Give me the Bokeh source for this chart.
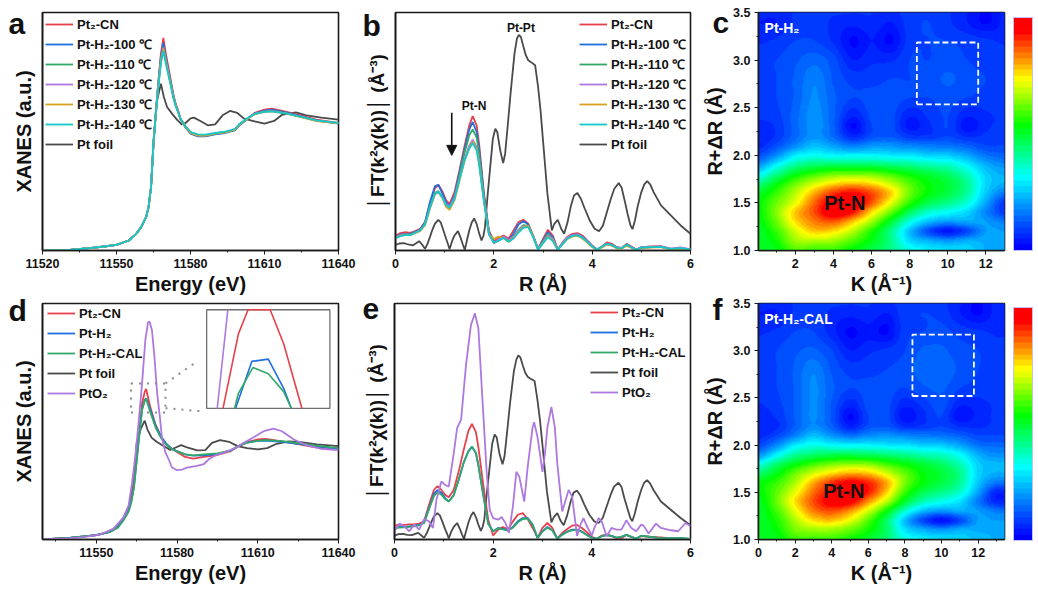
import numpy as np
from bokeh.plotting import figure
from bokeh.layouts import row, column
from bokeh.embed import file_html
from bokeh.resources import INLINE
from bokeh.core.properties import value
from bokeh.models import (Range1d, FixedTicker, Legend, LegendItem, Arrow, NormalHead,
                          LinearColorMapper, ColorBar, NumeralTickFormatter)

FONT = "Liberation Sans"
RED, BLUE, GREEN, PURPLE, ORANGE, CYAN, GREY = "#e8404a", "#1f6fe0", "#32a868", "#ad78e0", "#d9a020", "#12c8cc", "#4a4a4a"

# panel a
Ea = [11520,11530,11540,11545,11550,11555,11558,11560,11562,11563,11564,11565,11566,11567,11568,
      11569,11570,11571,11572,11573,11574,11575,11576,11578,11580,11583,11586,11590,11594,11598,
      11600,11603,11606,11610,11613,11619,11625,11631,11640]
a_cn = [0,1,8,12,17,30,50,70,100,130,190,320,420,510,590,637,590,550,510,470,440,420,395,372,355,345,343,350,353,362,378,395,412,422,425,415,404,392,382]
a_100 = [0,1,8,12,17,30,50,70,100,130,190,320,420,505,580,622,578,540,503,465,436,415,392,368,350,342,342,348,352,360,376,393,410,419,422,413,402,390,380]
a_110 = [0,1,8,12,17,30,50,70,100,130,190,320,418,500,572,610,570,535,500,463,436,415,393,370,353,345,344,350,354,362,378,394,409,417,419,411,400,389,381]
a_120 = [0,1,8,12,17,30,50,70,100,130,190,320,418,500,570,608,568,533,498,462,435,415,393,370,353,345,345,351,355,363,379,395,409,416,418,410,400,389,381]
a_130 = [0,1,8,12,17,30,50,70,100,130,190,320,418,498,566,604,565,530,496,460,434,414,392,369,352,344,344,350,354,362,378,394,408,415,417,410,399,388,381]
a_140 = [0,1,8,12,17,30,50,70,100,130,190,320,416,495,560,598,560,527,494,458,433,414,393,371,355,348,347,352,356,364,380,396,409,415,417,410,400,390,382]
Ea_foil = [11520,11530,11540,11545,11550,11555,11558,11560,11562,11563,11564,11565,11566.5,11568,11569.2,11570.5,
           11572.5,11574.5,11576.4,11578,11580,11581.4,11584,11587,11590,11593,11596,11599,11601.7,11606,11610,
           11613.9,11617,11622.7,11627,11633,11640]
a_foil = [0,1,8,12,17,30,50,70,100,130,190,330,450,500,460,430,410,392,378,382,396,398,388,375,378,405,418,412,395,387,380,388,406,414,405,398,392]

# panel b
Rb = [0,.1,.2,.3,.4,.5,.6,.7,.8,.87,.95,1.03,1.1,1.2,1.3,1.4,1.5,1.57,1.65,1.7,1.8,1.9,2.0,2.1,2.2,
      2.3,2.4,2.5,2.6,2.7,2.8,2.9,3.0,3.1,3.2,3.3,3.4,3.5,3.6,3.7,3.8,3.9,4.0,4.1,4.2,4.3,4.4,4.5,4.6,4.7,
      4.8,4.9,5.0,5.2,5.4,5.6,5.8,6.0]
b_cn = [45,52,55,53,58,65,85,140,185,197,178,150,140,175,240,310,375,403,375,320,170,60,28,38,45,35,60,85,92,80,45,5,35,62,45,3,25,42,50,52,45,30,15,3,12,24,20,10,8,20,12,3,10,12,13,4,5,3]
b_100 = [42,48,50,50,56,62,85,145,192,197,172,145,133,165,232,300,362,385,355,305,165,55,25,30,40,30,50,78,88,78,42,5,30,55,40,3,22,38,46,48,42,28,13,3,10,20,17,9,7,18,10,3,9,10,11,3,6,2]
b_110 = [40,46,48,48,54,60,80,132,172,178,160,138,130,160,225,290,345,363,338,290,160,52,22,30,38,28,42,62,76,74,44,6,28,50,36,3,20,36,44,47,40,27,12,3,10,19,16,8,7,16,9,3,9,10,11,4,6,3]
b_120 = [40,46,48,47,54,60,78,128,168,176,160,138,132,158,215,272,315,332,310,268,150,50,22,35,42,30,42,60,72,72,42,5,25,46,34,3,22,40,46,48,40,27,13,3,12,20,16,8,8,16,10,3,10,11,12,6,9,4]
b_130 = [38,44,47,46,52,58,76,125,168,175,158,130,122,150,208,265,308,327,305,262,148,48,35,42,36,26,38,56,70,74,42,3,22,42,30,3,20,35,42,44,36,24,10,1,10,18,14,6,5,14,8,1,8,9,10,3,6,2]
b_140 = [37,43,46,46,53,60,78,128,170,176,160,136,128,155,212,268,305,322,300,258,145,48,24,30,38,26,36,54,68,70,40,2,22,40,28,2,20,36,44,46,38,26,12,2,12,20,16,8,7,17,9,2,9,10,11,5,7,3]
Rf = [0,.08,.17,.26,.35,.42,.48,.54,.6,.65,.7,.75,.8,.87,.92,.97,1.03,1.07,1.1,1.15,1.2,1.27,1.32,1.37,1.41,1.46,1.5,1.55,1.6,1.65,
      1.7,1.75,1.79,1.82,1.87,1.92,1.98,2.03,2.07,2.13,2.19,2.23,2.28,2.34,2.42,2.47,2.51,2.55,2.6,2.65,2.7,2.75,2.84,2.9,2.95,
      3.0,3.09,3.18,3.23,3.3,3.37,3.43,3.5,3.57,3.63,3.7,3.77,3.85,3.95,4.05,4.14,4.22,4.3,4.38,4.45,4.54,4.6,4.66,4.72,4.78,
      4.82,4.87,4.93,5.0,5.06,5.12,5.18,5.25,5.4,5.6,5.8,6.0]
b_foil = [17,21,22,18,15,22,28,18,5,20,40,62,80,92,84,62,35,18,4,28,45,58,40,18,2,35,60,84,96,80,
          52,30,45,70,160,240,335,365,355,300,262,290,370,470,590,635,646,640,612,585,570,565,555,490,420,
          330,170,60,80,92,65,50,85,135,165,172,155,125,90,65,58,75,115,155,185,202,188,150,110,75,
          64,90,135,175,198,208,198,175,135,105,75,50]

# panel d
Ed = [11530,11540,11550,11555,11558,11560,11562,11563,11564,11565,11566,11567,11568,11568.5,11570,11572,11574,11576,11578,
      11580,11583,11586,11590,11595,11600,11603,11606,11610,11613,11619,11625,11631,11640]
d_cn = [0,5,13,23,38,63,93,123,173,253,333,413,448,456,403,348,313,288,275,265,250,245,250,256,268,283,295,303,305,297,289,280,273]
d_h2 = [0,5,13,23,38,60,88,116,160,240,320,395,423,428,395,345,313,290,275,268,258,254,255,259,270,284,294,299,300,296,290,283,275]
d_cal = [0,5,13,23,36,57,84,112,158,238,318,392,420,427,387,340,308,287,274,267,258,255,258,261,270,284,293,299,301,298,292,285,277]
Ed_foil = [11530,11540,11550,11555,11558,11560,11562,11563,11564,11565,11566.5,11568,11569,11570.6,11572.4,11575,11577.5,11579.3,
           11581.5,11584,11587.5,11590.5,11593,11596,11599.3,11602.5,11606,11610,11613.5,11617,11621.5,11626,11632,11640]
d_foil = [0,5,13,23,40,65,100,130,180,293,335,360,333,308,296,283,271,278,286,278,270,271,293,301,296,283,277,273,277,290,297,295,288,283]
Ed_pto2 = [11530,11540,11545.3,11551.5,11556.4,11560.2,11562,11563.3,11564.5,11565.7,11567,11568.2,11569.2,11569.8,11570.7,11571.6,
           11572.6,11573.6,11574.4,11575.7,11576.9,11578.1,11580,11581.9,11583.7,11587.4,11589.9,11591.8,11594.3,11597.4,11601.1,
           11604.8,11608.5,11612.2,11615.9,11619,11623.4,11628.3,11633.3,11640]
d_pto2 = [0,3,7,15,33,68,103,173,253,353,473,603,658,660,633,553,443,373,308,263,243,218,210,212,218,223,228,243,255,263,275,293,310,328,336,328,303,285,275,271]

# inset of panel d: the boxed part of the peak
inset_E_cn, inset_cn = [11564.6,11566.2,11567.2,11569.5,11570.9,11572.8], [385,451.5,473,473,442.7,385]
inset_E_h2, inset_h2 = [11565.9,11567.6,11569.3,11570.9,11571.7], [385,427,429,403,385]
inset_E_cal, inset_cal = [11565.8,11566.2,11567.7,11569.3,11570.9,11571.7], [385,398.5,421.5,416,400,385]
inset_E_pto2, inset_pto2 = [11564,11565.1], [385,473]

# panel e
e_cn = [42,45,44,46,46,48,55,105,150,162,150,135,128,150,205,270,330,350,325,280,165,60,12,30,38,30,55,75,80,62,35,5,35,50,35,3,20,32,42,44,35,22,8,2,12,15,10,4,3,14,8,3,10,8,6,3,3,2]
e_h2 = [35,38,38,40,42,44,52,95,138,150,142,125,115,135,180,232,268,280,262,225,135,48,25,35,32,28,38,55,65,65,45,5,25,38,28,3,15,24,30,30,24,14,6,2,10,13,11,6,8,14,8,3,11,8,3,4,4,2]
e_cal = [34,36,37,38,40,43,50,92,132,143,136,122,115,133,180,232,268,282,262,225,133,47,24,34,31,27,36,52,62,63,44,5,24,36,27,3,14,23,28,29,23,13,5,2,10,13,11,6,8,14,8,3,11,8,3,4,4,2]
e_foil = [12,16,17,14,13,17,20,13,5,18,35,54,70,80,73,54,30,16,3,24,38,50,34,15,2,30,52,72,83,68,
          45,26,40,60,138,208,290,318,310,258,228,252,322,410,510,545,558,552,528,505,493,488,480,420,360,
          285,145,52,68,80,56,43,73,115,142,148,133,105,75,55,50,65,100,135,160,172,160,125,95,65,
          55,78,115,150,172,180,170,150,115,90,65,43]
Rp = [0,.1,.2,.3,.4,.5,.6,.7,.78,.85,.95,1.03,1.1,1.2,1.27,1.35,1.45,1.55,1.63,1.7,1.8,1.87,1.93,2.0,2.1,2.17,2.25,2.32,2.4,2.47,
      2.53,2.63,2.7,2.8,2.83,2.9,3.0,3.05,3.1,3.18,3.25,3.3,3.4,3.45,3.53,3.6,3.7,3.77,3.83,3.9,4.0,4.05,4.14,4.2,4.3,
      4.4,4.5,4.6,4.7,4.8,4.9,5.0,5.05,5.15,5.3,5.4,5.6,5.75,5.9,6.0]
e_pto2 = [25,48,40,25,45,30,62,55,35,120,176,165,160,260,338,363,530,650,685,640,380,200,90,65,60,68,50,20,100,205,190,115,220,340,355,310,205,260,340,402,340,230,85,110,150,130,11,45,65,40,12,35,65,55,10,35,30,30,58,35,25,45,42,18,48,35,28,25,50,40]

# wavelet maps: one row per R in map_R; columns k = 0 ... 14
map_k = [0,1,2,3,4,5,6,7,8,9,10,11,12,13,14]
map_R = [1.0,1.1,1.2,1.3,1.4,1.5,1.6,1.7,1.8,1.9,2.0,2.1,2.2,2.3,2.4,2.6,2.8,3.0,3.2,3.4,3.6]
map_c = [
 [.50,.52,.60,.58,.58,.53,.48,.42,.34,.30,.28,.27,.22,.20,.20],
 [.50,.55,.66,.68,.66,.60,.52,.42,.27,.22,.19,.22,.22,.22,.22],
 [.50,.58,.70,.78,.76,.68,.56,.42,.24,.10,.04,.10,.20,.20,.20],
 [.52,.62,.76,.84,.87,.78,.66,.50,.34,.24,.20,.22,.20,.16,.16],
 [.53,.64,.78,.88,.99,.93,.76,.62,.46,.36,.32,.27,.17,.08,.10],
 [.53,.62,.72,.86,.97,1.0,.87,.72,.57,.47,.42,.35,.21,.08,.12],
 [.50,.58,.68,.80,.90,.94,.88,.77,.62,.53,.48,.40,.25,.16,.18],
 [.42,.52,.62,.70,.76,.79,.76,.69,.60,.53,.49,.41,.27,.22,.24],
 [.30,.42,.52,.58,.62,.63,.62,.58,.53,.49,.45,.37,.26,.22,.24],
 [.18,.30,.40,.44,.45,.45,.45,.43,.41,.38,.36,.30,.22,.18,.20],
 [.10,.18,.29,.32,.30,.30,.30,.29,.28,.26,.25,.21,.15,.13,.13],
 [.06,.11,.18,.24,.20,.16,.19,.19,.17,.16,.15,.13,.10,.10,.10],
 [.05,.08,.14,.19,.14,.06,.11,.12,.08,.08,.10,.07,.08,.08,.08],
 [.06,.08,.14,.19,.13,.02,.10,.11,.04,.07,.10,.03,.07,.08,.08],
 [.08,.09,.14,.19,.13,.05,.11,.11,.05,.08,.10,.05,.07,.08,.08],
 [.09,.10,.13,.18,.13,.10,.11,.11,.10,.10,.11,.10,.09,.09,.09],
 [.09,.10,.13,.17,.12,.09,.09,.10,.10,.11,.13,.11,.10,.09,.09],
 [.09,.10,.12,.14,.11,.05,.07,.07,.10,.10,.11,.10,.09,.09,.09],
 [.07,.08,.10,.10,.07,.02,.05,.02,.09,.10,.10,.09,.08,.07,.07],
 [.05,.05,.08,.09,.07,.06,.07,.05,.09,.10,.08,.05,.02,.06,.07],
 [.08,.07,.08,.09,.09,.09,.08,.08,.09,.09,.08,.06,.03,.06,.07]]
map_f = [
 [.50,.52,.58,.58,.58,.55,.50,.44,.34,.30,.28,.27,.24,.22,.20],
 [.50,.54,.63,.66,.66,.62,.55,.45,.28,.22,.19,.22,.22,.22,.22],
 [.50,.56,.67,.76,.78,.72,.60,.45,.24,.10,.03,.10,.20,.20,.20],
 [.50,.59,.72,.84,.88,.82,.70,.54,.36,.24,.20,.22,.20,.16,.16],
 [.51,.62,.76,.88,.96,.96,.82,.68,.50,.38,.33,.28,.16,.06,.08],
 [.53,.61,.72,.85,.94,1.0,.92,.77,.58,.47,.42,.36,.21,.06,.10],
 [.53,.58,.67,.80,.90,.95,.91,.80,.63,.53,.48,.41,.25,.16,.18],
 [.44,.52,.62,.70,.76,.80,.78,.70,.61,.53,.49,.42,.27,.22,.24],
 [.33,.44,.52,.58,.62,.64,.63,.58,.53,.49,.45,.38,.26,.23,.24],
 [.18,.30,.40,.44,.46,.46,.45,.43,.41,.38,.36,.31,.22,.18,.20],
 [.10,.18,.29,.33,.31,.30,.30,.29,.28,.26,.25,.21,.15,.14,.14],
 [.06,.10,.17,.24,.19,.15,.18,.19,.17,.16,.15,.13,.10,.10,.10],
 [.05,.07,.13,.18,.13,.05,.11,.12,.07,.08,.10,.07,.07,.08,.08],
 [.06,.08,.13,.18,.12,.02,.10,.11,.03,.07,.10,.03,.06,.08,.08],
 [.07,.09,.13,.18,.12,.05,.11,.11,.05,.08,.11,.05,.06,.08,.08],
 [.09,.10,.13,.18,.13,.10,.11,.11,.10,.12,.13,.10,.09,.09,.09],
 [.09,.10,.13,.17,.12,.09,.09,.10,.11,.14,.14,.12,.10,.09,.09],
 [.09,.10,.12,.13,.10,.05,.07,.08,.10,.13,.13,.11,.10,.09,.09],
 [.07,.08,.10,.10,.06,.02,.04,.02,.09,.10,.11,.09,.08,.07,.07],
 [.05,.05,.08,.09,.07,.06,.07,.05,.09,.10,.09,.05,.02,.06,.07],
 [.08,.07,.08,.09,.09,.09,.08,.08,.09,.09,.08,.06,.03,.06,.07]]

TICKS_A = [11520,11550,11580,11610,11640]
MINOR_A = [11535,11565,11595,11625]
TICKS_D = [11550,11580,11610,11640]
MINOR_D = [11535,11565,11595,11625]
TICKS_R = [0,2,4,6]
MINOR_R = [1,3,5]
TICKS_K = [2,4,6,8,10,12]
TICKS_KF = [0,2,4,6,8,10,12]
TICKS_Y = [1.0,1.5,2.0,2.5,3.0,3.5]
MINOR_KC = [1,3,5,7,9,11]
MINOR_KF = [1,3,5,7,9,11,13]

panel_letters = ["a", "b", "c", "d", "e", "f"]

FT = "\u2502FT(k\u00b2\u03c7(k))\u2502 (\u00c5\u207b\u00b3)"


def fig(width, height, xr, yr, xt, xm, yt, ym, xlabel, ylabel, left, right, top, bottom, xstand=2, ystand=8):
    p = figure(width=width, height=height, x_range=Range1d(*xr), y_range=Range1d(*yr),
               output_backend="svg", toolbar_location=None,
               min_border_left=left, min_border_right=right, min_border_top=top, min_border_bottom=bottom,
               background_fill_color="white", border_fill_color=None, outline_line_color="#1a1a1a",
               outline_line_width=1.6)
    p.grid.visible = False
    for ax, t, m, lab, st in ((p.xaxis[0], xt, xm, xlabel, xstand), (p.yaxis[0], yt, ym, ylabel, ystand)):
        ax.ticker = FixedTicker(ticks=t, minor_ticks=m)
        ax.axis_label = lab
        ax.axis_label_text_font = FONT
        ax.axis_label_text_font_style = "bold"
        ax.axis_label_text_font_size = "20px"
        ax.axis_label_text_color = "#111111"
        ax.axis_label_standoff = st
        ax.major_label_text_font = FONT
        ax.major_label_text_font_style = "bold"
        ax.major_label_text_font_size = "12.5px"
        ax.major_label_text_color = "#111111"
        ax.major_label_standoff = 4
        ax.major_tick_out = 4
        ax.major_tick_in = 0
        ax.minor_tick_out = 2
        ax.minor_tick_in = 0
        ax.axis_line_color = "#1a1a1a"
        ax.axis_line_width = 1.6
        ax.major_tick_line_color = "#1a1a1a"
        ax.minor_tick_line_color = "#1a1a1a"
    return p


def legend(p, pairs, x, y):
    it = [LegendItem(label=value(n), renderers=[r]) for n, r in pairs]
    p.add_layout(Legend(items=it, location=(x, y), background_fill_alpha=0, border_line_color=None,
                        padding=0, margin=0, spacing=0, label_height=20, glyph_height=20, glyph_width=28,
                        label_standoff=4, label_text_font=FONT, label_text_font_style="bold",
                        label_text_font_size="13px", label_text_color="#111111"))


def note(p, s, x, y, size, color="#111111", align="center"):
    p.text([x], [y], text=[s], text_font=value(FONT), text_font_style="bold", text_font_size=size,
           text_color=color, text_align=align, text_baseline="middle")


LW = 1.8
# ---------- a
pa = fig(358, 300, (11520, 11640), (0, 713), TICKS_A, MINOR_A, [], [], "Energy (eV)", "XANES (a.u.)", 42, 20, 12, 50)
rf = pa.line(Ea_foil, a_foil, line_color=GREY, line_width=LW)
rs = [pa.line(Ea, v, line_color=c, line_width=LW) for v, c in
      ((a_cn, RED), (a_100, BLUE), (a_110, GREEN), (a_120, PURPLE), (a_130, ORANGE), (a_140, CYAN))]
NAMES = ["Pt\u2082-CN", "Pt-H\u2082-100 \u2103", "Pt-H\u2082-110 \u2103", "Pt-H\u2082-120 \u2103", "Pt-H\u2082-130 \u2103", "Pt-H\u2082-140 \u2103", "Pt foil"]
legend(pa, list(zip(NAMES, rs + [rf])), 3, 96)

# ---------- b
pb = fig(343, 300, (0, 6), (0, 713), TICKS_R, MINOR_R, [], [], "R (\u00c5)", FT, 37, 11, 12, 50)
pb.yaxis[0].axis_label_text_font_size = "19px"
rf = pb.line(Rf, b_foil, line_color=GREY, line_width=LW)
rs = [pb.line(Rb, v, line_color=c, line_width=LW) for v, c in
      ((b_cn, RED), (b_100, BLUE), (b_110, GREEN), (b_120, PURPLE), (b_130, ORANGE), (b_140, CYAN))]
legend(pb, list(zip(NAMES, rs + [rf])), 184, 96)
note(pb, "Pt-Pt", 2.55, 668, "12px")
note(pb, "Pt-N", 1.6, 432, "12px")
pb.add_layout(Arrow(end=NormalHead(size=10, fill_color="#111111", line_color="#111111"),
                    x_start=1.144, y_start=413, x_end=1.144, y_end=285, line_color="#111111", line_width=1.6))

# ---------- d
pd_ = fig(358, 301, (11530, 11640), (0, 715), TICKS_D, MINOR_D, [], [], "Energy (eV)", "XANES (a.u.)", 42, 20, 13, 50)
rf = pd_.line(Ed_foil, d_foil, line_color=GREY, line_width=LW)
r1 = pd_.line(Ed, d_cn, line_color=RED, line_width=LW)
r2 = pd_.line(Ed, d_h2, line_color=BLUE, line_width=LW)
r3 = pd_.line(Ed, d_cal, line_color=GREEN, line_width=LW)
r4 = pd_.line(Ed_pto2, d_pto2, line_color=PURPLE, line_width=LW)
N2 = ["Pt\u2082-CN", "Pt-H\u2082", "Pt-H\u2082-CAL", "Pt foil", "PtO\u2082"]
legend(pd_, list(zip(N2, [r1, r2, r3, rf, r4])), 5, 136)
# zoom box, leaders and inset
src = dict(x=[11562.9, 11575.7], y=[385, 473])
pd_.line([src["x"][0], src["x"][1], src["x"][1], src["x"][0], src["x"][0]],
         [src["y"][0], src["y"][0], src["y"][1], src["y"][1], src["y"][0]],
         line_color="#8a8a8a", line_width=2, line_dash="2 6")
pd_.line([src["x"][1], 11586.8], [473, 536], line_color="#8a8a8a", line_width=2, line_dash="2 6")
pd_.line([src["x"][1], 11589.7], [398, 388], line_color="#8a8a8a", line_width=2, line_dash="2 6")
ibox = dict(l=11591, r=11636.8, b=397, t=696)
pd_.quad(left=[ibox["l"]], right=[ibox["r"]], bottom=[ibox["b"]], top=[ibox["t"]],
         fill_color="white", line_color="#6e6e6e", line_width=1.3)
sub = pd_.subplot(x_source=Range1d(src["x"][0], src["x"][1]), y_source=Range1d(src["y"][0], src["y"][1]),
                  x_target=Range1d(ibox["l"], ibox["r"]), y_target=Range1d(ibox["b"], ibox["t"]))
sub.line(inset_E_pto2, inset_pto2, line_color=PURPLE, line_width=1.6)
sub.line(inset_E_cn, inset_cn, line_color=RED, line_width=1.6)
sub.line(inset_E_h2, inset_h2, line_color=BLUE, line_width=1.6)
sub.line(inset_E_cal, inset_cal, line_color=GREEN, line_width=1.6)

# ---------- e
pe = fig(343, 301, (0, 6), (0, 715), TICKS_R, MINOR_R, [], [], "R (\u00c5)", FT, 36, 11, 13, 50)
pe.yaxis[0].axis_label_text_font_size = "19px"
rf = pe.line(Rf, e_foil, line_color=GREY, line_width=LW)
r1 = pe.line(Rb, e_cn, line_color=RED, line_width=LW)
r2 = pe.line(Rb, e_h2, line_color=BLUE, line_width=LW)
r3 = pe.line(Rb, e_cal, line_color=GREEN, line_width=LW)
r4 = pe.line(Rp, e_pto2, line_color=PURPLE, line_width=LW)
legend(pe, list(zip(N2, [r1, r2, r3, rf, r4])), 196, 137)


# ---------- maps
def upsample(grid, rows, n0=360, n1=460):
    """Catmull-Rom resampling so the read-off grid is drawn as a smooth raster."""
    a = np.array(grid, dtype=float)

    def cr(a, t):
        m = a.shape[0]
        i = np.clip(t.astype(int), 0, m - 2)
        u = (t - i).reshape((-1,) + (1,) * (a.ndim - 1))
        p0, p1, p2, p3 = a[np.clip(i - 1, 0, m - 1)], a[i], a[i + 1], a[np.clip(i + 2, 0, m - 1)]
        return 0.5 * (2 * p1 + (p2 - p0) * u + (2 * p0 - 5 * p1 + 4 * p2 - p3) * u ** 2 + (3 * p1 - p0 - 3 * p2 + p3) * u ** 3)

    t0 = np.interp(np.linspace(rows[0], rows[-1], n0), rows, np.arange(len(rows)))
    a = cr(a, t0)
    a = np.moveaxis(cr(np.moveaxis(a, 1, 0), np.linspace(0, a.shape[1] - 1, n1)), 0, 1)
    return a


def ramp(n=40):
    stops = [(0, (0, 0, 255)), (.08, (0, 60, 255)), (.31, (0, 255, 255)), (.54, (0, 255, 0)),
             (.74, (255, 255, 0)), (.95, (255, 0, 0)), (1, (255, 0, 0))]
    xs = [s[0] for s in stops]
    out = []
    for i in range(n):
        t = i / (n - 1)
        c = [int(round(np.interp(t, xs, [s[1][j] for s in stops]))) for j in range(3)]
        out.append("#%02x%02x%02x" % tuple(c))
    return out


PALETTE = ramp()


def wavelet(grid, width, height, xr, xt, xm, top, bottom, title, box, pk, bar_x, bar_y, bar_h):
    p = fig(width, height, xr, (1.0, 3.5), xt, xm, TICKS_Y, [1.25, 1.75, 2.25, 2.75, 3.25],
            "K (\u00c5\u207b\u00b9)", "R+\u0394R (\u00c5)", 56, 30, top, bottom, ystand=4)
    p.yaxis[0].formatter = NumeralTickFormatter(format="0.0")
    mapper = LinearColorMapper(palette=PALETTE, low=0, high=1)
    p.image(image=[upsample(grid, map_R)], x=map_k[0], y=map_R[0], dw=map_k[-1] - map_k[0], dh=map_R[-1] - map_R[0],
            color_mapper=mapper)
    p.line([box[0], box[1], box[1], box[0], box[0]], [box[2], box[2], box[3], box[3], box[2]],
           line_color="white", line_width=1.8, line_dash="6 3")
    note(p, title, xr[0] + 0.32, 3.34, "14px", "white", "left")
    note(p, "Pt-N", pk[0], pk[1], "20px")
    cb = ColorBar(color_mapper=mapper, width=19, height=bar_h, padding=0, margin=0, location=(bar_x, bar_y),
                  ticker=FixedTicker(ticks=[]), major_tick_line_color=None, minor_tick_line_color=None,
                  major_label_text_font_size="0px", bar_line_color="#c0c0ff", bar_line_width=1)
    p.add_layout(cb)
    return p


pc = wavelet(map_c, 333, 300, (0.07, 12.98), TICKS_K, MINOR_KC, 12, 50, "Pt-H\u2082",
             (8.38, 11.6, 2.535, 3.185), (4.6, 1.5), 255, 0, 233)
pf = wavelet(map_f, 333, 301, (0, 13.44), TICKS_KF, MINOR_KF, 15, 48, "Pt-H\u2082-CAL",
             (8.41, 11.77, 2.52, 3.17), (4.66, 1.51), 255, -1, 233)

# transparent sheet over the whole page carrying the panel letters
PAGE_W, PAGE_H = 1034, 589
sheet = figure(width=PAGE_W, height=PAGE_H, x_range=Range1d(0, PAGE_W), y_range=Range1d(PAGE_H, 0),
               output_backend="svg", toolbar_location=None, x_axis_location=None, y_axis_location=None,
               min_border=0, background_fill_color=None, border_fill_color=None, outline_line_color=None,
               margin=(-PAGE_H, 0, 0, 0))
sheet.grid.visible = False
sheet.text([8, 362, 712, 8, 362, 712], [23, 25, 22, 310, 308, 309], text=panel_letters,
           text_font=value(FONT), text_font_style="bold", text_font_size="30px", text_color="#111111",
           text_baseline="alphabetic", text_align="left")

top_row = row(pa, pb, pc)
bot_row = row(pd_, pe, pf, margin=(-12, 0, 0, 0))
page = column(top_row, bot_row, sheet)
open("out.html", "w").write(file_html(page, INLINE))
